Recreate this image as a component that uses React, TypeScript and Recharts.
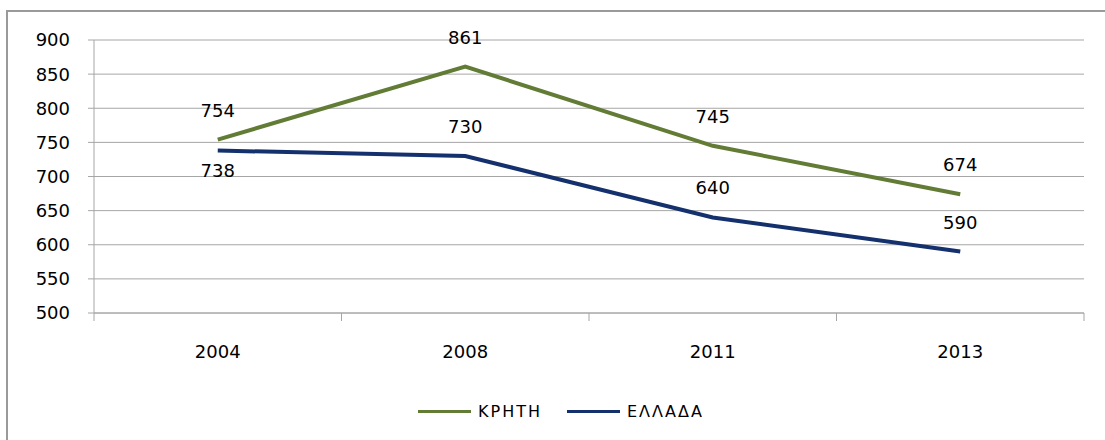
import React from 'react';
import { LineChart, Line, XAxis, YAxis, CartesianGrid, Legend, LabelList } from 'recharts';

const years = ['2004', '2008', '2011', '2013'];
const kritiValues = [754, 861, 745, 674];
const elladaValues = [738, 730, 640, 590];
// where each ΕΛΛΑΔΑ value label sits relative to its point
const elladaLabelSide = ['bottom', 'top', 'top', 'top'];
const kritiLabelSide = ['top', 'top', 'top', 'top'];
const yTicks = [500, 550, 600, 650, 700, 750, 800, 850, 900];

const data = years.map((year, i) => ({ year, kriti: kritiValues[i], ellada: elladaValues[i] }));

const FONT = '"DejaVu Sans", sans-serif';
const GRID = '#a6a6a6';
const GREEN = '#627c36';
const BLUE = '#14316e';

const series = [
  { key: 'kriti', name: 'ΚΡΗΤΗ', color: GREEN, sides: kritiLabelSide },
  { key: 'ellada', name: 'ΕΛΛΑΔΑ', color: BLUE, sides: elladaLabelSide },
];

const makeLabel = (sides: string[]) => (props: any) => {
  const { x, y, value, index } = props;
  const below = sides[index] === 'bottom';
  return (
    <text x={x} y={below ? y + 26 : y - 23} textAnchor="middle" fontSize={18} fill="#000" fontFamily={FONT}>
      {value}
    </text>
  );
};

const CategoryTick = (props: any) => {
  const { x, y, payload, index, visibleTicksCount, width } = props;
  const half = width / visibleTicksCount / 2;
  return (
    <g>
      <line x1={x - half} y1={y} x2={x - half} y2={y + 8} stroke={GRID} />
      {index === visibleTicksCount - 1 && <line x1={x + half} y1={y} x2={x + half} y2={y + 8} stroke={GRID} />}
      <text x={x} y={y + 45} textAnchor="middle" fontSize={18} fill="#000" fontFamily={FONT}>
        {payload.value}
      </text>
    </g>
  );
};

const renderLegend = () => (
  <div style={{ display: 'flex', alignItems: 'center', fontFamily: FONT, fontSize: 16, color: '#000' }}>
    {series.map((s) => (
      <span key={s.key} style={{ display: 'flex', alignItems: 'center', marginRight: 25 }}>
        <span style={{ display: 'inline-block', width: 53, height: 3, background: s.color, marginRight: 7 }} />
        <span style={{ letterSpacing: 2 }}>{s.name}</span>
      </span>
    ))}
  </div>
);

export default function App() {
  return (
    <div style={{ position: 'absolute', left: 0, top: 0, width: 1105, height: 440, overflow: 'hidden', background: '#fff' }}>
      <div
        style={{
          position: 'absolute',
          left: 6,
          top: 10,
          width: 1200,
          height: 500,
          border: '2px solid #9a9a9a',
        }}
      />
      <div style={{ position: 'absolute', left: 0, top: 0 }}>
        <LineChart width={1105} height={440} data={data} margin={{ top: 40, right: 21, left: 34, bottom: 87 }}>
          <CartesianGrid vertical={false} stroke={GRID} />
          <XAxis
            dataKey="year"
            scale="band"
            height={40}
            axisLine={{ stroke: GRID }}
            tickLine={false}
            tickSize={0}
            tickMargin={0}
            tick={<CategoryTick />}
            interval={0}
          />
          <YAxis
            width={60}
            domain={[500, 900]}
            ticks={yTicks}
            axisLine={{ stroke: GRID }}
            tickLine={{ stroke: GRID }}
            tickSize={6}
            tickMargin={18}
            tick={{ fontSize: 18, fill: '#000', fontFamily: FONT }}
          />
          <Legend
            verticalAlign="middle"
            align="center"
            content={renderLegend}
            wrapperStyle={{ left: 418, top: 402, width: 'auto' }}
          />
          {series.map((s) => (
            <Line
              key={s.key}
              dataKey={s.key}
              name={s.name}
              stroke={s.color}
              strokeWidth={4}
              dot={false}
              isAnimationActive={false}
            >
              <LabelList dataKey={s.key} content={makeLabel(s.sides)} />
            </Line>
          ))}
        </LineChart>
      </div>
    </div>
  );
}
